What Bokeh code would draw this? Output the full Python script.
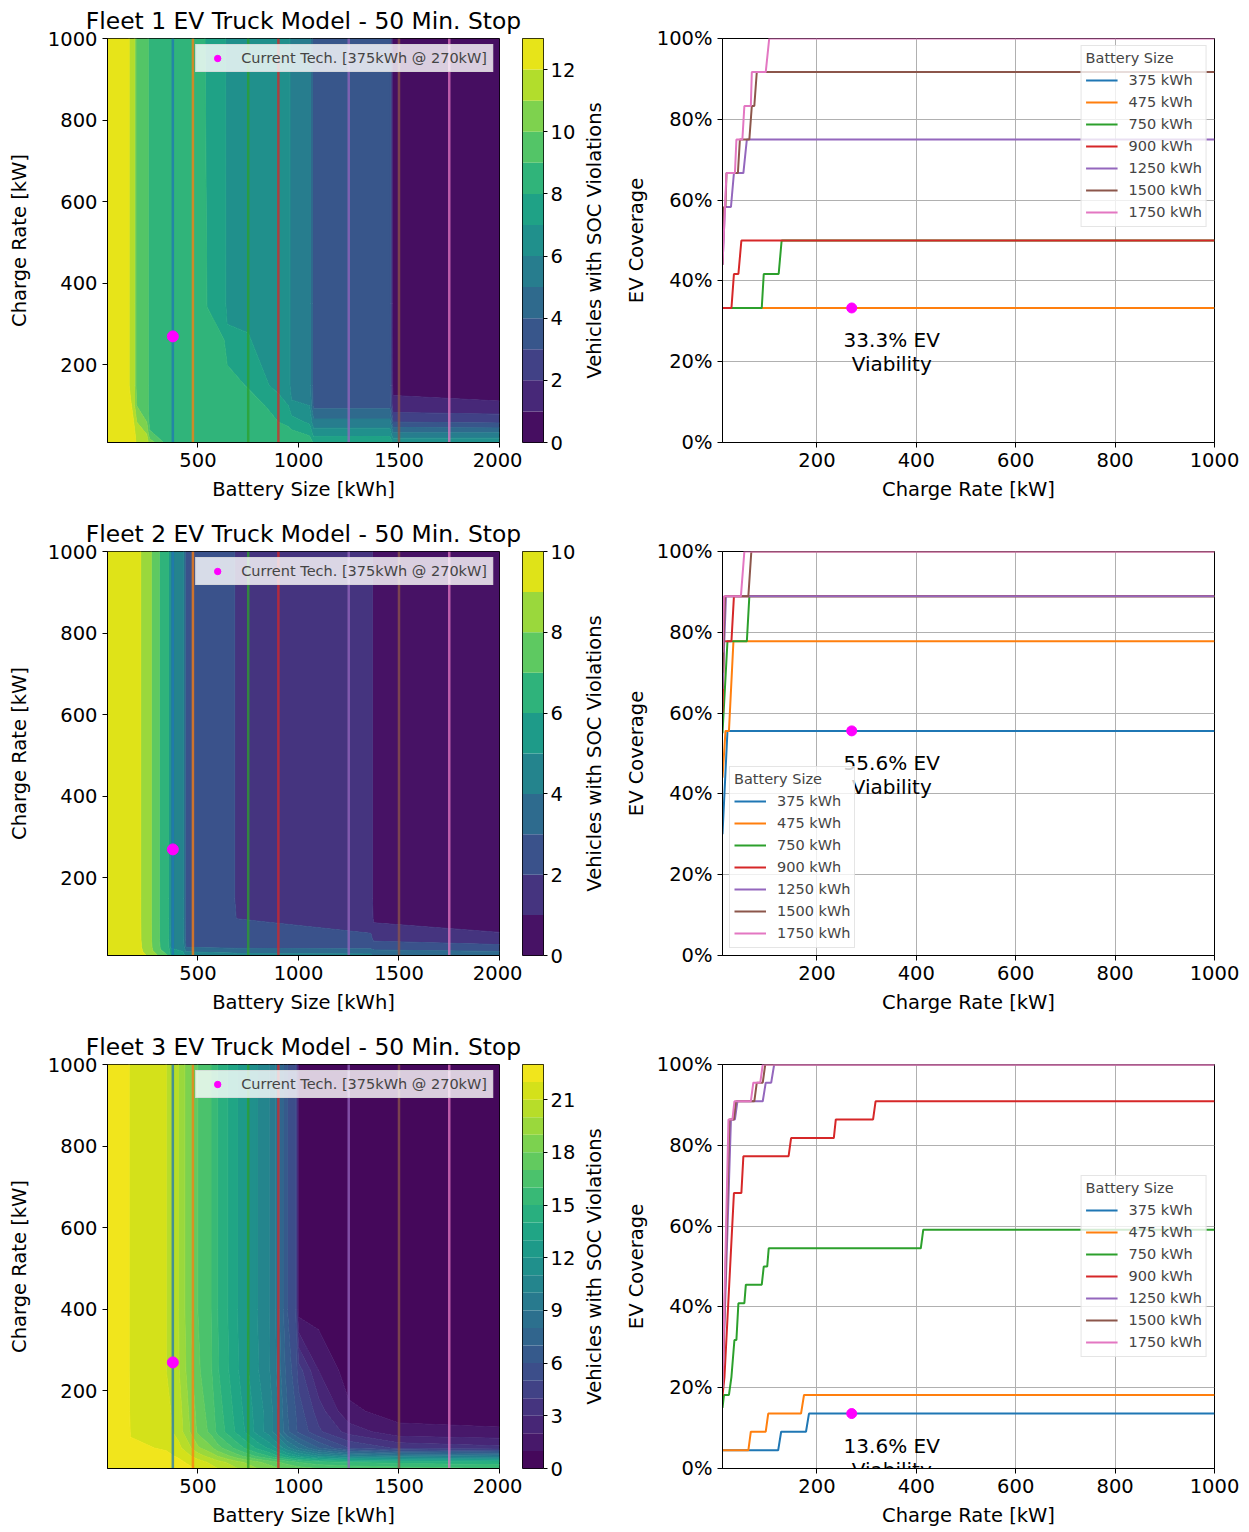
import numpy as np
from bokeh.plotting import figure
from bokeh.layouts import row, column
from bokeh.models import (Range1d, FixedTicker, PrintfTickFormatter, Legend, LegendItem,
                          Label, ColumnDataSource, LinearAxis)
from bokeh.palettes import Viridis256
from bokeh.embed import file_html
from bokeh.resources import INLINE

# ---------------------------------------------------------------- data
BATTERY_SIZES = [375, 475, 750, 900, 1250, 1500, 1750]
BATTERY_COLORS = ["#1f77b4", "#ff7f0e", "#2ca02c", "#d62728", "#9467bd", "#8c564b", "#e377c2"]
CURRENT_BATTERY = 375
CURRENT_RATE = 270
STOP_MINUTES = 50

BATTERY_AXIS = (50, 2000)
RATE_AXIS = (10, 1000)
COVERAGE_AXIS = (0, 100)
BATTERY_TICKS = [500, 1000, 1500, 2000]
RATE_TICKS = [200, 400, 600, 800, 1000]
COVERAGE_TICKS = [0, 20, 40, 60, 80, 100]

# ---- Fleet 1 : SOC-violation grid (rows = charge rate, cols = battery size)
F1_GRID_BATTERY = [50, 150, 165, 180, 195, 245, 260, 330, 525, 545, 630, 645, 750, 900, 950, 965, 1055, 1075, 1455, 1470, 2000]
F1_GRID_RATE = [10, 30, 60, 100, 150, 350, 1000]
F1_VIOLATIONS = [
    [12.5, 12.5, 12.5, 12.5, 11.8, 11.4, 10.6, 8.95, 8.7, 8.7, 8.7, 8.7, 8.7, 8.7, 8.6, 8.5, 8.4, 7.9, 7.8, 6.8, 6.8],
    [12.5, 12.5, 12.5, 12.5, 11.5, 11.0, 9.2, 8.6, 8.6, 8.6, 8.6, 8.6, 8.6, 8.6, 8.5, 8.3, 7.9, 6.7, 6.7, 5.3, 5.3],
    [12.5, 12.5, 12.5, 12.0, 11.0, 10.0, 8.6, 8.5, 8.5, 8.5, 8.5, 8.5, 8.5, 8.0, 7.7, 7.5, 6.8, 5.3, 5.3, 3.0, 2.8],
    [12.5, 12.5, 12.2, 11.5, 10.0, 9.5, 8.5, 8.5, 8.5, 8.5, 8.5, 8.5, 8.5, 7.6, 7.0, 6.2, 6.0, 3.7, 3.7, 1.3, 1.15],
    [12.5, 12.5, 11.5, 11.5, 9.5, 9.5, 8.5, 8.5, 8.5, 8.5, 8.5, 8.5, 7.9, 6.6, 6.5, 5.5, 5.5, 3.5, 3.5, 0.7, 0.5],
    [12.5, 12.5, 11.5, 11.5, 9.5, 9.5, 8.5, 8.5, 8.5, 7.98, 7.6, 6.5, 6.5, 6.5, 6.5, 5.5, 5.5, 3.5, 3.5, 0.5, 0.5],
    [12.5, 12.5, 11.5, 11.5, 9.5, 9.5, 8.5, 8.5, 8.5, 7.5, 7.5, 6.5, 6.5, 6.5, 6.5, 5.5, 5.5, 3.5, 3.5, 0.5, 0.5],
]
F1_LEVEL_MAX = 13
F1_COLORBAR_TICKS = [0, 2, 4, 6, 8, 10, 12]
F1_CURVE_X = [
    [10, 1000],
    [10, 1000],
    [10, 89, 93, 123, 129, 1000],
    [10, 28, 33, 42, 48, 1000],
    [10, 15, 27, 33, 52, 59, 1000],
    [10, 13, 16, 18, 41, 45, 64, 69, 74, 79, 1000],
    [10, 18, 35, 38, 50, 54, 67, 69, 97, 104, 1000],
]
F1_CURVE_Y = [
    [33.3, 33.3],
    [33.3, 33.3],
    [33.3, 33.3, 41.7, 41.7, 50.0, 50.0],
    [33.3, 33.3, 41.7, 41.7, 50.0, 50.0],
    [44.0, 58.3, 58.3, 66.7, 66.7, 75.0, 75.0],
    [44.0, 58.3, 58.3, 66.7, 66.7, 75.0, 75.0, 83.3, 83.3, 91.7, 91.7],
    [44.0, 66.7, 66.7, 75.0, 75.0, 83.3, 83.3, 91.7, 91.7, 100.0, 100.0],
]
F1_VIABILITY = 33.3

# ---- Fleet 2
F2_GRID_BATTERY = [50, 205, 225, 260, 275, 300, 315, 350, 365, 425, 440, 675, 690, 1360, 1375, 2000]
F2_GRID_RATE = [10, 30, 50, 100, 150, 1000]
F2_VIOLATIONS = [
    [9.5, 9.5, 9.2, 8.8, 8.3, 8.0, 7.5, 7.0, 5.8, 5.3, 4.8, 4.5, 4.4, 4.3, 3.8, 3.6],
    [9.5, 9.5, 8.8, 8.6, 7.8, 7.6, 6.8, 6.6, 4.9, 4.7, 3.0, 2.8, 2.8, 2.7, 2.6, 2.4],
    [9.5, 9.5, 8.6, 8.5, 7.6, 7.5, 6.6, 6.5, 4.6, 4.5, 2.6, 2.5, 2.4, 2.2, 1.8, 1.2],
    [9.5, 9.5, 8.5, 8.5, 7.5, 7.5, 6.5, 6.5, 4.5, 4.5, 2.5, 2.5, 2.0, 1.5, 0.8, 0.6],
    [9.5, 9.5, 8.5, 8.5, 7.5, 7.5, 6.5, 6.5, 4.5, 4.5, 2.5, 2.5, 1.5, 1.5, 0.5, 0.5],
    [9.5, 9.5, 8.5, 8.5, 7.5, 7.5, 6.5, 6.5, 4.5, 4.5, 2.5, 2.5, 1.5, 1.5, 0.5, 0.5],
]
F2_LEVEL_MAX = 10
F2_COLORBAR_TICKS = [0, 2, 4, 6, 8, 10]
F2_CURVE_X = [
    [10, 20, 1000],
    [10, 16, 23, 32, 1000],
    [10, 20, 59, 64, 1000],
    [10, 13, 28, 33, 1000],
    [10, 17, 1000],
    [10, 15, 62, 68, 1000],
    [10, 13, 47, 54, 1000],
]
F2_CURVE_Y = [
    [30.0, 55.6, 55.6],
    [44.0, 55.6, 55.6, 77.8, 77.8],
    [55.0, 77.8, 77.8, 88.9, 88.9],
    [60.0, 77.8, 77.8, 88.9, 88.9],
    [66.0, 88.9, 88.9],
    [70.0, 88.9, 88.9, 100.0, 100.0],
    [75.0, 88.9, 88.9, 100.0, 100.0],
]
F2_VIABILITY = 55.6

# ---- Fleet 3
F3_GRID_BATTERY = [50, 150, 165, 342, 403, 466, 499, 565, 598, 648, 697, 747, 796, 854, 887, 945, 986, 1000, 1100, 1250, 1500, 2000]
F3_GRID_RATE = [10, 25, 40, 60, 100, 150, 250, 400, 1000]
F3_VIOLATIONS = [
    [22.5, 22.5, 22.5, 22.5, 22.4, 22.1, 21.8, 21.3, 21.0, 20.5, 20.0, 19.5, 19.0, 18.5, 18.2, 17.8, 17.5, 17.4, 17.0, 16.7, 16.4, 16.0],
    [22.5, 22.5, 22.5, 22.4, 22.2, 21.8, 21.5, 20.8, 20.4, 19.9, 19.3, 18.8, 18.2, 17.6, 17.2, 16.6, 16.2, 16.0, 15.4, 15.0, 14.7, 14.4],
    [22.5, 22.5, 22.4, 22.2, 21.9, 21.0, 20.5, 19.6, 19.0, 18.2, 17.4, 16.6, 15.8, 15.0, 14.3, 13.2, 12.5, 12.2, 11.0, 10.1, 9.5, 9.1],
    [22.5, 22.5, 22.2, 21.9, 21.3, 20.0, 19.2, 18.2, 17.4, 16.5, 15.6, 14.7, 13.8, 12.8, 12.0, 10.3, 9.3, 8.9, 7.0, 5.0, 3.8, 3.3],
    [22.5, 22.5, 21.9, 21.4, 20.6, 18.8, 17.8, 16.7, 15.7, 14.7, 13.7, 12.7, 11.6, 10.5, 9.5, 7.2, 6.2, 5.8, 4.2, 2.6, 1.3, 1.15],
    [22.5, 22.5, 21.7, 21.3, 20.5, 18.6, 17.6, 16.5, 15.5, 14.5, 13.5, 12.5, 11.5, 10.5, 9.5, 7.0, 6.0, 5.5, 3.5, 1.2, 0.6, 0.5],
    [22.5, 22.5, 21.5, 21.0, 20.1, 18.2, 17.2, 16.1, 15.1, 14.1, 13.1, 12.1, 11.1, 10.1, 9.1, 6.5, 5.5, 4.5, 2.0, 0.5, 0.5, 0.5],
    [22.5, 22.5, 21.5, 21.0, 20.0, 18.0, 17.0, 16.0, 15.0, 14.0, 13.0, 12.0, 11.0, 10.0, 9.0, 6.0, 5.0, 0.5, 0.5, 0.5, 0.5, 0.5],
    [22.5, 22.5, 21.5, 21.0, 20.0, 18.0, 17.0, 16.0, 15.0, 14.0, 13.0, 12.0, 11.0, 10.0, 9.0, 6.0, 5.0, 0.5, 0.5, 0.5, 0.5, 0.5],
]
F3_LEVEL_MAX = 23
F3_COLORBAR_TICKS = [0, 3, 6, 9, 12, 15, 18, 21]
F3_CURVE_X = [
    [10, 122, 128, 178, 184, 1000],
    [10, 62, 67, 97, 102, 168, 174, 1000],
    [10, 13, 23, 28, 34, 38, 42, 54, 57, 89, 93, 100, 103, 409, 414, 1000],
    [10, 14, 33, 48, 52, 143, 148, 234, 238, 313, 318, 1000],
    [10, 27, 35, 40, 91, 97, 108, 114, 1000],
    [10, 24, 33, 37, 74, 79, 91, 96, 1000],
    [10, 22, 30, 34, 67, 72, 86, 91, 1000],
]
F3_CURVE_Y = [
    [4.5, 4.5, 9.1, 9.1, 13.6, 13.6],
    [4.5, 4.5, 9.1, 9.1, 13.6, 13.6, 18.2, 18.2],
    [15.0, 18.2, 18.2, 22.7, 31.8, 31.8, 40.9, 40.9, 45.5, 45.5, 50.0, 50.0, 54.5, 54.5, 59.1, 59.1],
    [18.0, 22.7, 68.2, 68.2, 77.3, 77.3, 81.8, 81.8, 86.4, 86.4, 90.9, 90.9],
    [20.0, 86.4, 86.4, 90.9, 90.9, 95.5, 95.5, 100.0, 100.0],
    [20.0, 86.4, 86.4, 90.9, 90.9, 95.5, 95.5, 100.0, 100.0],
    [20.0, 86.4, 86.4, 90.9, 90.9, 95.5, 95.5, 100.0, 100.0],
]
F3_VIABILITY = 13.6

COLORBAR_LABEL = "Vehicles with SOC Violations"

# ---------------------------------------------------------------- style
FONT = "DejaVu Sans"
BASE = "19.5px"
SMALL = "14.5px"
TITLE = "23.4px"
NOTE = "20px"


def band_palette(n):
    return [Viridis256[min(255, int((i + 0.5) / n * 256))] for i in range(n)]


def style_axis(ax, label, ticks, standoff):
    ax.axis_label = label
    ax.ticker = FixedTicker(ticks=ticks)
    ax.axis_label_text_font = FONT
    ax.axis_label_text_font_size = BASE
    ax.axis_label_text_font_style = "normal"
    ax.axis_label_text_color = "black"
    ax.axis_label_standoff = standoff
    ax.major_label_text_font = FONT
    ax.major_label_text_font_size = BASE
    ax.major_label_text_color = "black"
    ax.major_label_standoff = 5
    ax.major_tick_in = 0
    ax.major_tick_out = 5
    ax.minor_tick_in = 0
    ax.minor_tick_out = 0
    ax.axis_line_color = "black"
    ax.major_tick_line_color = "black"


def base_fig(fw, x_range, y_range, left, right, bottom, **kw):
    p = figure(frame_width=fw, frame_height=404, x_range=x_range, y_range=y_range,
               min_border_left=left, min_border_right=right, min_border_top=38,
               min_border_bottom=bottom, output_backend="svg", toolbar_location=None, **kw)
    p.outline_line_color = "black"
    p.outline_line_width = 1
    p.background_fill_color = "white"
    p.border_fill_color = "white"
    return p


def heatmap(fleet_no, grid_bat, grid_rate, viol, vmax, bottom):
    levels = list(range(vmax + 1))
    pal = band_palette(vmax)
    p = base_fig(392, Range1d(*BATTERY_AXIS), Range1d(*RATE_AXIS), 107, 23, bottom)
    p.title.text = f"Fleet {fleet_no} EV Truck Model - {STOP_MINUTES} Min. Stop"
    p.title.align = "center"
    p.title.text_font = FONT
    p.title.text_font_size = TITLE
    p.title.text_font_style = "normal"
    p.title.text_color = "black"
    p.title.standoff = 7
    p.grid.grid_line_color = None
    style_axis(p.xaxis[0], "Battery Size [kWh]", BATTERY_TICKS, 8)
    style_axis(p.yaxis[0], "Charge Rate [kW]", RATE_TICKS, 14)

    X, Y = np.meshgrid(np.array(grid_bat, dtype=float), np.array(grid_rate, dtype=float))
    seam = [pal[min(k, vmax - 1)] for k in levels]
    p.contour(X, Y, np.array(viol, dtype=float), levels, fill_color=pal,
              line_color=seam, line_width=1)

    n = len(BATTERY_SIZES)
    src = ColumnDataSource(dict(x=BATTERY_SIZES, y0=[RATE_AXIS[0]] * n, y1=[RATE_AXIS[1]] * n,
                                c=BATTERY_COLORS))
    p.segment(x0="x", y0="y0", x1="x", y1="y1", line_color="c", line_width=2.5,
              line_alpha=0.75, source=src)
    dot = p.scatter([CURRENT_BATTERY], [CURRENT_RATE], size=11, color="magenta")
    leg = Legend(items=[LegendItem(label=f"Current Tech. [{CURRENT_BATTERY}kWh @ {CURRENT_RATE}kW]",
                                   renderers=[dot])],
                 location="top_right", margin=6, padding=5, glyph_width=32, glyph_height=16,
                 label_standoff=8, label_height=16, label_text_font=FONT,
                 label_text_font_size=SMALL, background_fill_alpha=0.8,
                 border_line_color="#cccccc")
    p.add_layout(leg)
    return p


def colorbar(vmax, ticks, bottom):
    levels = list(range(vmax + 1))
    pal = band_palette(vmax)
    p = base_fig(21, Range1d(0, 1), Range1d(0, vmax), 0, 33, bottom,
                 x_axis_type=None, y_axis_location="right")
    p.grid.grid_line_color = None
    p.quad(left=0, right=1, bottom=levels[:-1], top=levels[1:], fill_color=pal, line_color=None)
    style_axis(p.yaxis[0], None, ticks, 0)
    p.yaxis[0].axis_line_color = None
    p.yaxis[0].major_tick_out = 4
    p.yaxis[0].major_label_standoff = 3
    return p


def coverage(curve_x, curve_y, viab, legend_loc, bottom):
    p = base_fig(492, Range1d(*RATE_AXIS), Range1d(*COVERAGE_AXIS), 144, 35, bottom)
    style_axis(p.xaxis[0], "Charge Rate [kW]", RATE_TICKS, 8)
    style_axis(p.yaxis[0], "EV Coverage", COVERAGE_TICKS, 6)
    p.yaxis[0].formatter = PrintfTickFormatter(format="%d%%")
    # label belonging to the colour bar on the left of this panel
    cb_label = LinearAxis(ticker=FixedTicker(ticks=[]))
    style_axis(cb_label, COLORBAR_LABEL, [], 16)
    cb_label.axis_line_color = None
    cb_label.major_tick_out = 0
    p.add_layout(cb_label, "left")

    p.grid.grid_line_color = "#b0b0b0"
    p.grid.grid_line_width = 1
    items = []
    for b, c, xs, ys in zip(BATTERY_SIZES, BATTERY_COLORS, curve_x, curve_y):
        r = p.line(xs, ys, line_color=c, line_width=2)
        items.append(LegendItem(label=f"{b} kWh", renderers=[r]))
    p.scatter([CURRENT_RATE], [viab], size=10, color="magenta")
    for txt, off in ((f"{viab:.1f}% EV", -32), ("Viability", -56)):
        p.add_layout(Label(x=CURRENT_RATE, y=viab, x_offset=40, y_offset=off, text=txt,
                           text_align="center", text_baseline="middle", text_font=FONT,
                           text_font_size=NOTE, text_color="black", level="overlay"))
    leg = Legend(items=items, title="Battery Size", location=legend_loc, margin=7, padding=4,
                 glyph_width=32, glyph_height=20, label_height=20, label_standoff=11, spacing=2,
                 label_text_font=FONT, label_text_font_size=SMALL, title_text_font=FONT,
                 title_text_font_size=SMALL, title_text_font_style="normal", title_standoff=4,
                 background_fill_alpha=0.8, border_line_color="#cccccc", level="overlay")
    p.add_layout(leg)
    return p


rows = []
fleets = [
    (1, F1_GRID_BATTERY, F1_GRID_RATE, F1_VIOLATIONS, F1_LEVEL_MAX, F1_COLORBAR_TICKS,
     F1_CURVE_X, F1_CURVE_Y, F1_VIABILITY, "top_right", 71),
    (2, F2_GRID_BATTERY, F2_GRID_RATE, F2_VIOLATIONS, F2_LEVEL_MAX, F2_COLORBAR_TICKS,
     F2_CURVE_X, F2_CURVE_Y, F2_VIABILITY, "bottom_left", 71),
    (3, F3_GRID_BATTERY, F3_GRID_RATE, F3_VIOLATIONS, F3_LEVEL_MAX, F3_COLORBAR_TICKS,
     F3_CURVE_X, F3_CURVE_Y, F3_VIABILITY, "center_right", 64),
]
for (no, gb, gr, vi, vmax, cticks, cx, cy, viab, loc, bottom) in fleets:
    rows.append(row(heatmap(no, gb, gr, vi, vmax, bottom),
                    colorbar(vmax, cticks, bottom),
                    coverage(cx, cy, viab, loc, bottom)))

layout = column(*rows)
open("out.html", "w").write(file_html(layout, INLINE))
